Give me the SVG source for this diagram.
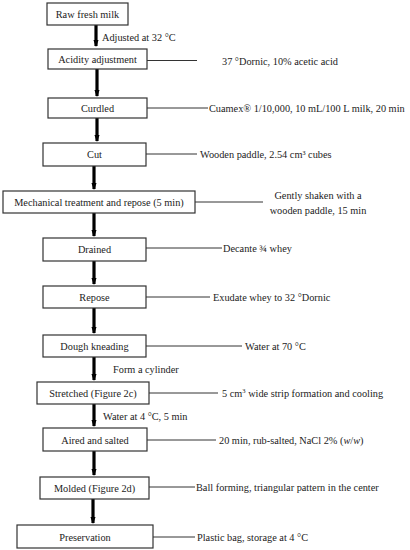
<svg xmlns="http://www.w3.org/2000/svg" width="410" height="550" viewBox="0 0 410 550">
<defs>
<marker id="ah" viewBox="0 0 8 6" refX="7" refY="3" markerWidth="2.2" markerHeight="1.8" orient="auto" markerUnits="strokeWidth">
<path d="M0,0 L8,3 L0,6 Z" fill="#000"/>
</marker>
<style>
.box rect{fill:#fff;stroke:#333;stroke-width:1.2}
text{font-family:"Liberation Serif","DejaVu Serif",serif;font-size:10.3px;fill:#222}
.c{text-anchor:middle}
.arr{stroke:#000;stroke-width:3.2;fill:none;marker-end:url(#ah)}
.ln{stroke:#333;stroke-width:1;fill:none}
</style>
</defs>
<rect width="410" height="550" fill="#fff"/>
<g id="connectors">
<line class="arr" x1="96" y1="25" x2="96" y2="46"/>
<line class="arr" x1="97" y1="69" x2="97" y2="96"/>
<line class="arr" x1="97" y1="118" x2="97" y2="141"/>
<line class="arr" x1="94" y1="166" x2="94" y2="189"/>
<line class="arr" x1="94" y1="213" x2="94" y2="236"/>
<line class="arr" x1="94" y1="261" x2="94" y2="284"/>
<line class="arr" x1="94" y1="308" x2="94" y2="333"/>
<line class="arr" x1="94" y1="357" x2="94" y2="380"/>
<line class="arr" x1="94" y1="404" x2="94" y2="426"/>
<line class="arr" x1="94" y1="451" x2="94" y2="475"/>
<line class="arr" x1="93" y1="499" x2="93" y2="523"/>
<line class="ln" x1="147" y1="60.5" x2="197" y2="60.5"/>
<line class="ln" x1="147" y1="108" x2="208" y2="108"/>
<line class="ln" x1="146" y1="154" x2="197" y2="154"/>
<line class="ln" x1="195" y1="202" x2="263" y2="202"/>
<line class="ln" x1="146" y1="248" x2="222" y2="248"/>
<line class="ln" x1="146" y1="297" x2="210" y2="297"/>
<line class="ln" x1="146" y1="346" x2="242" y2="346"/>
<line class="ln" x1="149" y1="393" x2="218" y2="393"/>
<line class="ln" x1="147" y1="440" x2="216" y2="440"/>
<line class="ln" x1="149" y1="487" x2="195" y2="487"/>
<line class="ln" x1="147" y1="537" x2="195" y2="537"/>
<text x="102" y="40.5">Adjusted at 32 °C</text>
<text x="113" y="372.5">Form a cylinder</text>
<text x="103" y="419.5">Water at 4 °C, 5 min</text>
</g>
<g id="n1" class="box"><rect x="47" y="3" width="81" height="22"/><text class="c" x="87.5" y="17.5">Raw fresh milk</text></g>
<g id="n2" class="box"><rect x="48" y="49" width="99" height="20"/><text class="c" x="97.5" y="62.5">Acidity adjustment</text></g>
<g id="n2t"><text x="222" y="64.5">37 °Dornic, 10% acetic acid</text></g>
<g id="n3" class="box"><rect x="48" y="98" width="99" height="20"/><text class="c" x="97.5" y="111.5">Curdled</text></g>
<g id="n3t"><text x="209" y="111.5">Cuamex® 1/10,000, 10 mL/100 L milk, 20 min</text></g>
<g id="n4" class="box"><rect x="43" y="143" width="103" height="23"/><text class="c" x="94.5" y="158">Cut</text></g>
<g id="n4t"><text x="200" y="158">Wooden paddle, 2.54 cm³ cubes</text></g>
<g id="n5" class="box"><rect x="3" y="191" width="192" height="22"/><text class="c" x="99" y="205.5">Mechanical treatment and repose (5 min)</text></g>
<g id="n5t"><text class="c" x="318" y="198.5">Gently shaken with a</text><text class="c" x="318" y="213.5">wooden paddle, 15 min</text></g>
<g id="n6" class="box"><rect x="43" y="238" width="103" height="23"/><text class="c" x="94.5" y="253">Drained</text></g>
<g id="n6t"><text x="223" y="252">Decante ¾ whey</text></g>
<g id="n7" class="box"><rect x="43" y="286" width="103" height="22"/><text class="c" x="94.5" y="300.5">Repose</text></g>
<g id="n7t"><text x="213" y="301">Exudate whey to 32 °Dornic</text></g>
<g id="n8" class="box"><rect x="43" y="335" width="103" height="22"/><text class="c" x="94.5" y="349.5">Dough kneading</text></g>
<g id="n8t"><text x="245" y="350">Water at 70 °C</text></g>
<g id="n9" class="box"><rect x="37" y="382" width="112" height="22"/><text class="c" x="93" y="396.5">Stretched (Figure 2c)</text></g>
<g id="n9t"><text x="222" y="396.5">5 cm<tspan dy="-3.5" font-size="6.5">3</tspan><tspan dy="3.5"> wide strip formation and cooling</tspan></text></g>
<g id="n10" class="box"><rect x="43" y="428" width="104" height="23"/><text class="c" x="95" y="443.5">Aired and salted</text></g>
<g id="n10t"><text x="219" y="443.5">20 min, rub-salted, NaCl 2% (<tspan font-style="italic">w</tspan>/<tspan font-style="italic">w</tspan>)</text></g>
<g id="n11" class="box"><rect x="40" y="477" width="109" height="22"/><text class="c" x="94.5" y="491.5">Molded (Figure 2d)</text></g>
<g id="n11t"><text x="196" y="490.5">Ball forming, triangular pattern in the center</text></g>
<g id="n12" class="box"><rect x="17" y="525" width="136" height="23"/><text class="c" x="85" y="540.5">Preservation</text></g>
<g id="n12t"><text x="197" y="540.5">Plastic bag, storage at 4 °C</text></g>
</svg>
